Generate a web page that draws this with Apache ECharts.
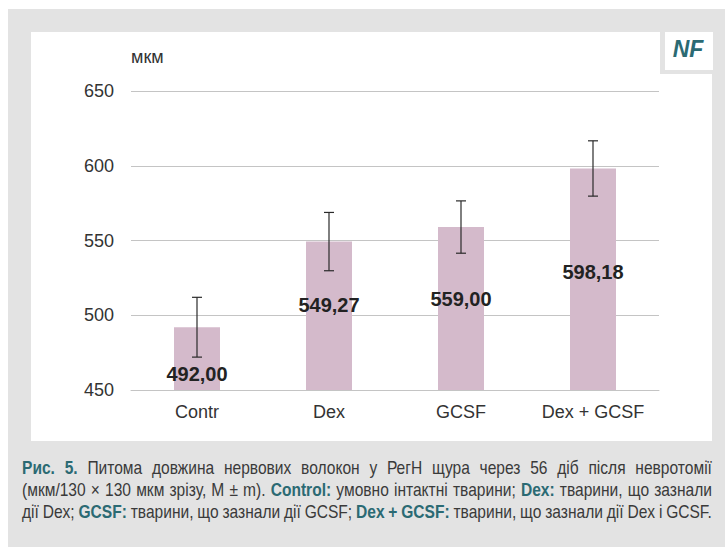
<!DOCTYPE html>
<html><head><meta charset="utf-8">
<script src="https://cdn.jsdelivr.net/npm/echarts@6/dist/echarts.min.js"></script>
<style>html,body{margin:0;padding:0;background:#fff}#c{width:725px;height:547px}</style>
</head><body><div id="c"></div>
<script>
// ---- data ----
const categories = ['Contr', 'Dex', 'GCSF', 'Dex + GCSF'];
const means = [492.00, 549.27, 559.00, 598.18];
const sem = [20.0, 19.5, 17.5, 18.5];
const meanLabels = ['492,00', '549,27', '559,00', '598,18'];
const yMin = 450, yMax = 650, yStep = 50;
const unitLabel = 'мкм';
const badgeText = 'NF';
// caption: [text, bold]
const captionLine1 = [['Рис. 5.', true], ['Питома довжина нервових волокон у РегН щура через 56 діб після невротомії', false]];
const captionLine2 = [['(мкм/130 × 130 мкм зрізу, M ± m).', false], ['Control:', true], ['умовно інтактні тварини;', false], ['Dex:', true], ['тварини, що зазнали', false]];
const captionLine3 = [['дії Dex;', false], ['GCSF:', true], ['тварини, що зазнали дії GCSF;', false], ['Dex + GCSF:', true], ['тварини, що зазнали дії Dex і GCSF.', false]];

// ---- styles ----
const labelDist = [37, 53, 62, 94];
const TEAL = '#2b6a73';
const FONT = '"Liberation Sans", Arial, sans-serif';
const CAP_FONT = '"Liberation Sans", Arial, sans-serif';
const CAP_SIZE = 17.5;
const CAP_SX = 0.89;

const chart = echarts.init(document.getElementById('c'), null, {renderer: 'svg'});

// justified caption words (narrow look via horizontal scaling)
const ctx = document.createElement('canvas').getContext('2d');
function justify(line, y, x0, x1) {
  const words = [];
  line.forEach(([t, b]) => t.split(' ').forEach(w => { if (w) words.push([w, b]); }));
  const widths = words.map(([w, b]) => { ctx.font = (b ? 'bold ' : '') + CAP_SIZE + 'px ' + CAP_FONT; return ctx.measureText(w).width * CAP_SX; });
  const total = widths.reduce((a, c) => a + c, 0);
  const gap = (x1 - x0 - total) / (words.length - 1);
  let x = x0;
  return words.map(([w, b], i) => {
    const el = {type: 'text', x: x, y: y, scaleX: CAP_SX, z: 10, style: {text: w, fill: b ? TEAL : '#3a3a3a', font: (b ? 'bold ' : '') + CAP_SIZE + 'px ' + CAP_FONT, verticalAlign: 'middle', align: 'left'}};
    x += widths[i] + gap;
    return el;
  });
}

const graphics = [
  {type: 'rect', shape: {x: 8, y: 9, width: 717, height: 538}, style: {fill: '#e3e3e3'}, z: 0},
  {type: 'rect', shape: {x: 31, y: 32, width: 681, height: 409}, style: {fill: '#ffffff'}, z: 0},
  {type: 'rect', shape: {x: 660, y: 32, width: 52, height: 42}, style: {fill: '#e3e3e3'}, z: 1},
  {type: 'rect', shape: {x: 665, y: 32, width: 48, height: 38}, style: {fill: '#ffffff'}, z: 1},
  {type: 'text', x: 688, y: 49, z: 10, style: {text: badgeText, fill: TEAL, font: 'italic bold 23px ' + FONT, align: 'center', verticalAlign: 'middle'}},
  {type: 'text', x: 131, y: 57, z: 10, style: {text: unitLabel, fill: '#333', font: '18px ' + FONT, align: 'left', verticalAlign: 'middle'}}
].concat(justify(captionLine1, 468, 22, 712), justify(captionLine2, 490, 22, 712), justify(captionLine3, 512, 22, 712));

chart.setOption({
  animation: false,
  grid: {left: 131, right: 66, top: 91, bottom: 157},
  graphic: graphics,
  xAxis: {
    type: 'category', data: categories,
    axisLine: {lineStyle: {color: '#c4c4c4', width: 1}},
    axisTick: {show: false},
    axisLabel: {interval: 0, fontSize: 18, color: '#333', fontFamily: FONT, margin: 13}
  },
  yAxis: {
    type: 'value', min: yMin, max: yMax, interval: yStep,
    axisLine: {show: false}, axisTick: {show: false},
    axisLabel: {fontSize: 18, color: '#333', fontFamily: FONT, margin: 17},
    splitLine: {lineStyle: {color: '#c4c4c4', width: 1}}
  },
  series: [
    {
      type: 'bar', barWidth: 46, z: 2,
      itemStyle: {color: '#d4bacb'},
      data: means.map((v, i) => ({value: v, label: {distance: labelDist[i]}})),
      label: {show: true, position: 'insideTop', fontSize: 20, fontWeight: 'bold', color: '#222', fontFamily: FONT,
        formatter: p => meanLabels[p.dataIndex]}
    },
    {
      type: 'custom', z: 3,
      data: means.map((m, i) => [i, m - sem[i], m + sem[i]]),
      renderItem: (params, api) => {
        const top = api.coord([api.value(0), api.value(2)]);
        const bot = api.coord([api.value(0), api.value(1)]);
        const hw = 5;
        const st = {stroke: '#2a2a2a', lineWidth: 1.2};
        return {type: 'group', children: [
          {type: 'line', shape: {x1: top[0], y1: top[1], x2: bot[0], y2: bot[1]}, style: st},
          {type: 'line', shape: {x1: top[0] - hw, y1: top[1], x2: top[0] + hw, y2: top[1]}, style: st},
          {type: 'line', shape: {x1: bot[0] - hw, y1: bot[1], x2: bot[0] + hw, y2: bot[1]}, style: st}
        ]};
      }
    }
  ]
});
</script></body></html>
